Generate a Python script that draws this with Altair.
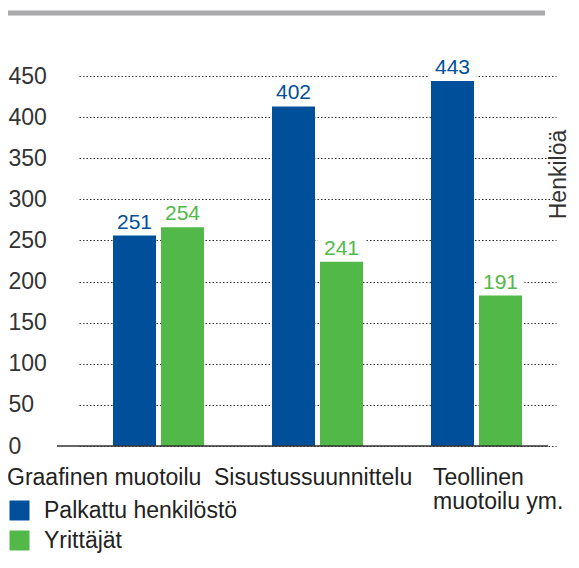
import altair as alt
import pandas as pd

categories = ["Graafinen muotoilu", "Sisustussuunnittelu", "Teollinen muotoilu ym."]
category_lines = ["Graafinen muotoilu", "Sisustussuunnittelu", "Teollinen\nmuotoilu ym."]
series = ["Palkattu henkilöstö", "Yrittäjät"]
# printed value labels
labels_palkattu = [251, 402, 443]
labels_yrittajat = [254, 241, 191]
# bar heights as drawn in the picture
heights_palkattu = [256, 413, 444]
heights_yrittajat = [266, 224, 183]
y_ticks = [0, 50, 100, 150, 200, 250, 300, 350, 400, 450]
colors = ["#004f9b", "#52b848"]

rows = []
for i, c in enumerate(categories):
    rows.append({"cat": c, "series": series[0], "height": heights_palkattu[i], "label": labels_palkattu[i]})
    rows.append({"cat": c, "series": series[1], "height": heights_yrittajat[i], "label": labels_yrittajat[i]})
df = pd.DataFrame(rows)
cat_df = pd.DataFrame({"cat": categories, "text": category_lines})

FONT = "Liberation Sans"

x_enc = alt.X("cat:N", sort=categories, axis=None,
              scale=alt.Scale(range=[22, 499], paddingInner=0, paddingOuter=0))
xoff_enc = alt.XOffset("series:N", sort=series,
                       scale=alt.Scale(paddingInner=5 / 48, paddingOuter=0.708))
y_enc = alt.Y("height:Q",
              scale=alt.Scale(domain=[0, 450], nice=False),
              axis=alt.Axis(values=y_ticks, grid=True, gridDash=[1.5, 2], gridColor="#333",
                            gridWidth=1.2, domain=False, ticks=False, tickSize=0,
                            labelAlign="left", labelPadding=49, labelFontSize=23,
                            labelColor="#333", labelFont=FONT,
                            title="Henkilöä", titleX=508, titleY=98, titleAngle=270,
                            titleAlign="center", titleBaseline="alphabetic",
                            titleFontSize=23, titleFontWeight="normal", titleColor="#333",
                            titleFont=FONT))
color_enc = alt.Color("series:N", sort=series,
                      scale=alt.Scale(domain=series, range=colors),
                      legend=alt.Legend(orient="none", legendX=-49, legendY=423,
                                        direction="vertical", title=None,
                                        symbolType="square", symbolSize=400,
                                        symbolStrokeWidth=0, symbolOpacity=1,
                                        labelFontSize=23, labelOffset=13, rowPadding=6,
                                        labelLimit=400,
                                        padding=0, labelFont=FONT, labelColor="#222"))

base = alt.Chart(df)

boxes = base.mark_point(shape="M-1,-1.04H1V-0.08H-1Z", size=2304, filled=True,
                        color="white", opacity=1, strokeWidth=0).encode(
    x=x_enc, xOffset=xoff_enc, y=y_enc)

bars = base.mark_bar().encode(x=x_enc, xOffset=xoff_enc, y=y_enc, color=color_enc)

values = base.mark_text(dy=-7, baseline="alphabetic", fontSize=21, font=FONT).encode(
    x=x_enc, xOffset=xoff_enc, y=y_enc, text="label:Q", color=color_enc)

baseline = alt.Chart(pd.DataFrame({"height": [0]})).mark_rule(
    color="#333", strokeWidth=1.5).encode(
    y=alt.Y("height:Q"), x=alt.value(0), x2=alt.value(491))

top_rule = alt.Chart(pd.DataFrame({"k": [0]})).mark_rule(
    color="#aaaaac", strokeWidth=5).encode(
    x=alt.value(-49), x2=alt.value(488), y=alt.value(-63))

dxs = [-151.5, -103.5, -43.5]
cat_layers = []
for i, c in enumerate(categories):
    cat_layers.append(
        alt.Chart(cat_df).transform_filter(alt.datum.cat == c).mark_text(
            align="left", baseline="alphabetic", dx=dxs[i], fontSize=23,
            lineBreak="\n", lineHeight=24, color="#222", font=FONT).encode(
            x=alt.X("cat:N", sort=categories, axis=None), y=alt.value(409), text="text:N")
    )

chart = alt.layer(boxes, bars, values, baseline, top_rule, *cat_layers).properties(
    width=491, height=370,
    padding={"left": 49, "top": 68, "right": 23, "bottom": 109},
    autosize=alt.AutoSizeParams(type="none"),
).configure(font=FONT, view=alt.ViewConfig(stroke=None))

chart.save("out.html", embed_options={"renderer": "svg", "actions": False})
